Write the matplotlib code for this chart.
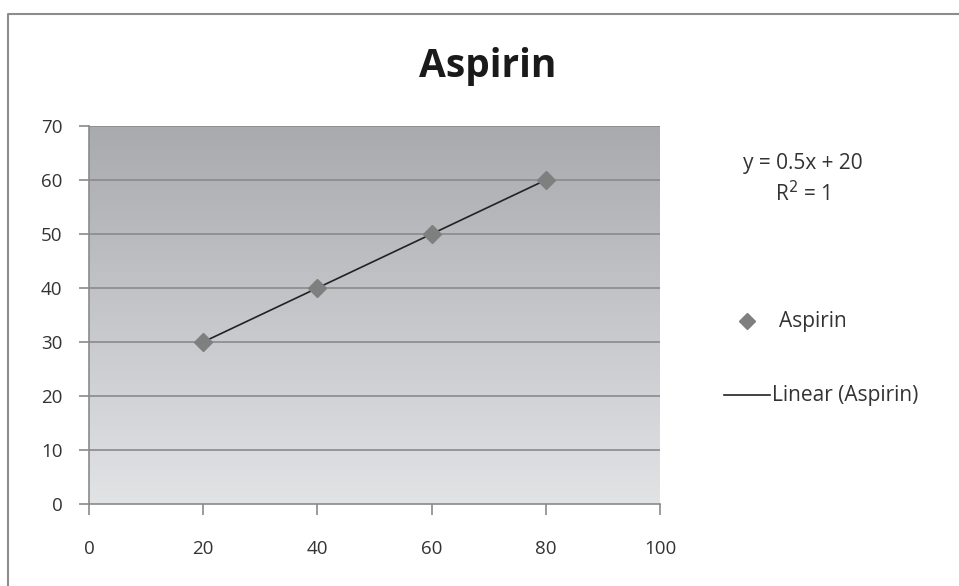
import matplotlib.pyplot as plt
import numpy as np
from matplotlib.lines import Line2D
from matplotlib.colors import LinearSegmentedColormap

plt.rcParams['font.family'] = ['Open Sans', 'DejaVu Sans']

dose = [20, 40, 60, 80]
aspirin = [30, 40, 50, 60]
x_ticks = [0, 20, 40, 60, 80, 100]
y_ticks = [0, 10, 20, 30, 40, 50, 60, 70]

# linha de tendência linear
a, b = np.polyfit(dose, aspirin, 1)
trend_x = np.array([min(dose), max(dose)])
trend_y = a * trend_x + b

fig = plt.figure(figsize=(9.59, 5.86), dpi=100)
ax = fig.add_axes([89 / 959, 82 / 586, 571 / 959, 378 / 586])

# fundo em degradê cinza
grad = np.linspace(0, 1, 256).reshape(-1, 1)
cmap = LinearSegmentedColormap.from_list('g', ['#a9aaae', '#e2e3e5'])
ax.imshow(grad, cmap=cmap, aspect='auto', extent=[0, 1, 0, 1],
          transform=ax.transAxes, zorder=0)

for yv in y_ticks[1:]:
    ax.axhline(yv, color='#8a8a8a', lw=1.2, zorder=1)

ax.plot(trend_x, trend_y, color='#222222', lw=1.2, zorder=2)
ax.plot(dose, aspirin, linestyle='none', marker='D', markersize=9,
        color='#7f7f7f', zorder=3)

ax.set_xlim(0, 100)
ax.set_ylim(0, 70)
ax.set_xticks(x_ticks)
ax.set_yticks(y_ticks)
for s in ['top', 'right']:
    ax.spines[s].set_visible(False)
for s in ['left', 'bottom']:
    ax.spines[s].set_color('#8a8a8a')
    ax.spines[s].set_linewidth(1.2)
ax.tick_params(axis='x', length=8, width=1.2, color='#8a8a8a', pad=18,
               labelsize=13.5, labelcolor='#333333')
ax.tick_params(axis='y', length=7, width=1.2, color='#8a8a8a', pad=12,
               labelsize=13.5, labelcolor='#333333')

fig.text(488 / 959, 1 - 66 / 586, 'Aspirin', ha='center', va='center',
         fontsize=28, fontweight='bold', color='#1a1a1a')

fig.text(803 / 959, 1 - 163 / 586, 'y = 0.5x + 20', ha='center', va='center',
         fontsize=15, color='#333333')
fig.text(803 / 959, 1 - 194 / 586, 'R$^2$ = 1', ha='center', va='center',
         fontsize=15, color='#333333')

# legenda manual
fig.add_artist(Line2D([747 / 959], [1 - 321 / 586], marker='D', markersize=8,
                      color='#7f7f7f', linestyle='none'))
fig.text(779 / 959, 1 - 321 / 586, 'Aspirin', va='center', fontsize=15,
         color='#333333')
fig.add_artist(Line2D([724 / 959, 770 / 959], [1 - 395 / 586, 1 - 395 / 586],
                      color='#222222', lw=1.2))
fig.text(772 / 959, 1 - 395 / 586, 'Linear (Aspirin)', va='center',
         fontsize=15, color='#333333')

# borda da área do gráfico
fig.add_artist(Line2D([8 / 959, 8 / 959, 1], [0, 1 - 14 / 586, 1 - 14 / 586],
                      color='#8c8c8c', lw=1.5))

fig.savefig('out.png', dpi=100)
